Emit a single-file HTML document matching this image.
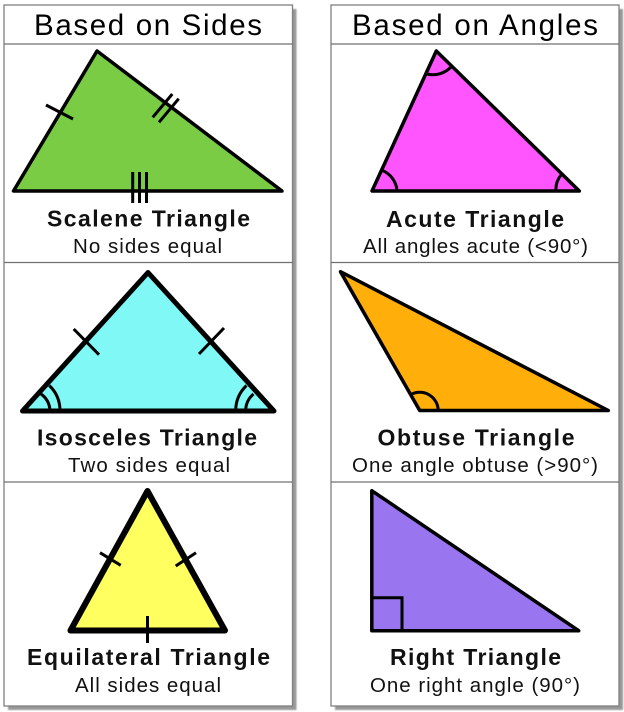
<!DOCTYPE html>
<html>
<head>
<meta charset="utf-8">
<style>
html,body{margin:0;padding:0;background:#fff;width:624px;height:712px;overflow:hidden}
svg{display:block}
.h{font-family:"Liberation Sans",sans-serif;font-size:29.500px;fill:#000}
.t{font-family:"Liberation Sans",sans-serif;font-weight:bold;font-size:23px;fill:#111}
.s{font-family:"Liberation Sans",sans-serif;font-size:20.500px;fill:#111}
.tri{stroke:#000;stroke-linejoin:round;stroke-linecap:round}
.m{stroke:#000;fill:none;stroke-width:3}
</style>
</head>
<body>
<svg width="624" height="712" viewBox="0 0 624 712" xmlns="http://www.w3.org/2000/svg">
<defs><filter id="b" x="-5%" y="-5%" width="110%" height="110%"><feGaussianBlur stdDeviation="0.800"/></filter></defs>
<rect x="8" y="9" width="288.500" height="701" fill="#999" filter="url(#b)"/>
<rect x="335" y="9" width="288" height="701" fill="#999" filter="url(#b)"/>
<rect x="4" y="5" width="288.500" height="701" fill="#fff" stroke="#808080" stroke-width="1.300"/>
<rect x="331" y="5" width="288" height="701" fill="#fff" stroke="#808080" stroke-width="1.300"/>
<g stroke="#707070" stroke-width="1.200">
<path d="M4 44H292.500M4 262.500H292.500M4 482H292.500"/>
<path d="M331 44H619M331 262.500H619M331 482H619"/>
</g>

<text class="h" x="34" y="35" textLength="228" lengthAdjust="spacing">Based on Sides</text>
<text class="h" x="352" y="35" textLength="246" lengthAdjust="spacing">Based on Angles</text>

<!-- Scalene -->
<polygon class="tri" points="97,51 13.500,191 282,191" fill="#7acc45" stroke-width="3.500"/>
<path class="m" d="M46 105L73 119M152.700 117.300L172.300 94M159 122.300L178.700 98.700M132.700 172V203M139.500 172V203M146.500 172V203"/>
<!-- Isosceles -->
<polygon class="tri" points="148,272.500 22.500,411 274,411" fill="#80f9f6" stroke-width="5"/>
<path d="M22.500 411H274" stroke="#000" stroke-width="3.500"/>
<path class="m" d="M73.700 329L99 354.700M224 328L199 354"/>
<path class="m" d="M41 394A22 22 0 0 1 50 410.500M49.300 385.500A35 35 0 0 1 60 410.500M246.500 385.500A35 35 0 0 0 235.700 410.500M253.500 394A22 22 0 0 0 245.700 410.500"/>
<!-- Equilateral -->
<polygon class="tri" points="147.500,491 70.500,630.500 225,630.500" fill="#ffff60" stroke-width="6"/>
<path class="m" d="M100 552.700L120.700 565.300M196 552.700L175.700 566M147.500 616V643"/>

<!-- Acute -->
<polygon class="tri" points="436.300,51 372,191 579.300,191" fill="#ff55ff" stroke-width="3.500"/>
<path class="m" d="M427 74A25 25 0 0 0 451.300 66.700M381.300 170A24 24 0 0 1 397 190.500M561.300 174.700A22 22 0 0 0 556 190.500"/>
<!-- Obtuse -->
<polygon class="tri" points="340.500,271.700 419.700,410.500 608.300,410.500" fill="#ffae0a" stroke-width="3.500"/>
<path class="m" d="M411.300 394.300A18.500 18.500 0 0 1 438.200 410"/>
<!-- Right -->
<polygon class="tri" points="371.800,490.700 371.800,630.700 578.700,630.700" fill="#9975f0" stroke-width="3.500"/>
<path class="m" d="M372 597.700H402V630"/>

<text class="t" x="47" y="226.500" textLength="203" lengthAdjust="spacing">Scalene Triangle</text>
<text class="s" x="73" y="253" textLength="149" lengthAdjust="spacing">No sides equal</text>
<text class="t" x="37" y="445.500" textLength="220" lengthAdjust="spacing">Isosceles Triangle</text>
<text class="s" x="68" y="472" textLength="162" lengthAdjust="spacing">Two sides equal</text>
<text class="t" x="27" y="665" textLength="243" lengthAdjust="spacing">Equilateral Triangle</text>
<text class="s" x="75" y="692" textLength="146" lengthAdjust="spacing">All sides equal</text>

<text class="t" x="386" y="227" textLength="178" lengthAdjust="spacing">Acute Triangle</text>
<text class="s" x="363" y="253" textLength="225" lengthAdjust="spacing">All angles acute (&lt;90°)</text>
<text class="t" x="377.500" y="445.500" textLength="197" lengthAdjust="spacing">Obtuse Triangle</text>
<text class="s" x="352" y="472" textLength="246" lengthAdjust="spacing">One angle obtuse (&gt;90°)</text>
<text class="t" x="390" y="665" textLength="171" lengthAdjust="spacing">Right Triangle</text>
<text class="s" x="370" y="692" textLength="210" lengthAdjust="spacing">One right angle (90°)</text>
</svg>
</body>
</html>
